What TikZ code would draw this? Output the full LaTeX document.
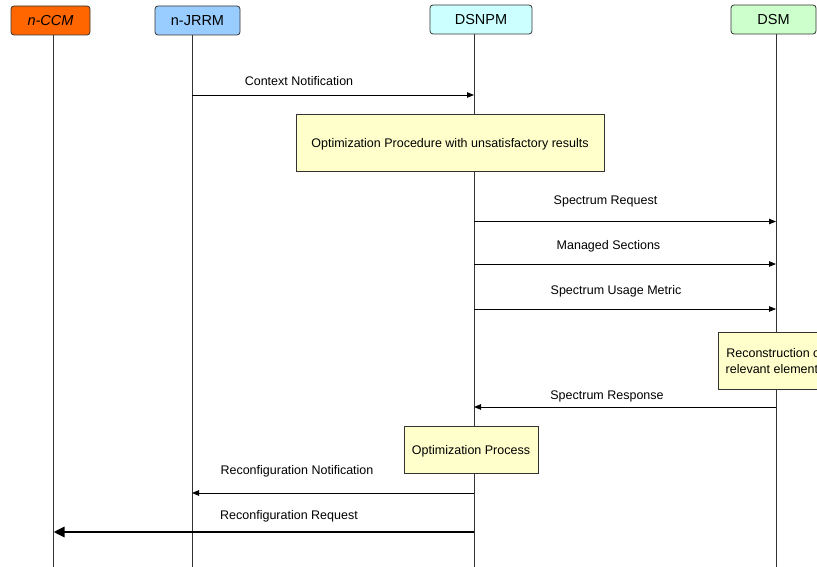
\documentclass[tikz,border=0pt]{standalone}
\usepackage{fontspec}
\setmainfont{Liberation Sans}
\usetikzlibrary{arrows.meta}
\definecolor{ccmfill}{HTML}{FF6600}
\definecolor{jrrmfill}{HTML}{99CCFF}
\definecolor{dsnpmfill}{HTML}{CCFFFF}
\definecolor{dsmfill}{HTML}{CCFFCC}
\definecolor{notefill}{HTML}{FFFFCC}
\definecolor{edge}{HTML}{333333}
\begin{document}
\begin{tikzpicture}[x=1pt,y=-1pt,
  head/.style={draw=edge,line width=0.8pt,rounded corners=3pt,inner sep=0pt,
    minimum height=29pt,font=\fontsize{14.5}{17}\selectfont},
  life/.style={draw=edge,line width=0.9pt},
  note/.style={draw=edge,line width=0.8pt,fill=notefill,inner sep=3pt,
    font=\fontsize{12.5}{16.5}\selectfont,align=center},
  lbl/.style={inner sep=0pt,font=\fontsize{12.5}{15}\selectfont},
  msg/.style={line width=0.8pt,-{Triangle[length=7pt,width=5.5pt]}},
  bigmsg/.style={line width=2.8pt,-{Triangle[length=11pt,width=10pt]}}]
\useasboundingbox (0,0) rectangle (817,567);
\clip (0,0) rectangle (817,567);

% participants
\node[head,fill=ccmfill,minimum width=79pt,font=\fontsize{14.5}{17}\selectfont\itshape] (ccm) at (50.5,20.5) {n-CCM};
\node[head,fill=jrrmfill,minimum width=85pt] (jrrm) at (197.5,20.5) {n-JRRM};
\node[head,fill=dsnpmfill,minimum width=102pt] (dsnpm) at (481,19.5) {DSNPM};
\node[head,fill=dsmfill,minimum width=85pt] (dsm) at (773.5,19.5) {DSM};

% lifeline feet
\coordinate (bccm) at (53.5,567);
\coordinate (bjrrm) at (192,567);
\coordinate (bdsnpm) at (474,567);
\coordinate (bdsm) at (776,567);

\draw[life] (ccm.south -| bccm) -- (bccm);
\draw[life] (jrrm.south -| bjrrm) -- (bjrrm);
\draw[life] (dsnpm.south -| bdsnpm) -- (bdsnpm);
\draw[life] (dsm.south -| bdsm) -- (bdsm);

% message rows
\coordinate (r1) at (0,95);
\coordinate (r2) at (0,221.5);
\coordinate (r3) at (0,264);
\coordinate (r4) at (0,309);
\coordinate (r5) at (0,407);
\coordinate (r6) at (0,493);
\coordinate (r7) at (0,532);

% activity boxes
\node[note,text depth=0pt,minimum width=308pt,minimum height=57pt] (opt1) at (450,142.5)
  {Optimization Procedure with unsatisfactory results};
\node[note,minimum width=114pt,minimum height=57pt] (recon) at (775,361)
  {Reconstruction of\\relevant elements};
\node[note,text depth=0pt,minimum width=134pt,minimum height=47pt] (opt2) at (471,449.5)
  {Optimization Process};

% messages
\draw[msg] (bjrrm |- r1) -- (bdsnpm |- r1);
\node[lbl] (l1) at (299,81.5) {Context Notification};
\draw[msg] (bdsnpm |- r2) -- (bdsm |- r2);
\node[lbl] (l2) at (605.5,201.5) {Spectrum Request};
\draw[msg] (bdsnpm |- r3) -- (bdsm |- r3);
\node[lbl] (l3) at (608.5,246.5) {Managed Sections};
\draw[msg] (bdsnpm |- r4) -- (bdsm |- r4);
\node[lbl] (l4) at (616,291.5) {Spectrum Usage Metric};
\draw[msg] (bdsm |- r5) -- (bdsnpm |- r5);
\node[lbl] (l5) at (607,396.5) {Spectrum Response};
\draw[msg] (bdsnpm |- r6) -- (bjrrm |- r6);
\node[lbl] (l6) at (297,471.5) {Reconfiguration Notification};
\draw[bigmsg] (bdsnpm |- r7) -- (bccm |- r7);
\node[lbl] (l7) at (289,516.5) {Reconfiguration Request};
\end{tikzpicture}
\end{document}
